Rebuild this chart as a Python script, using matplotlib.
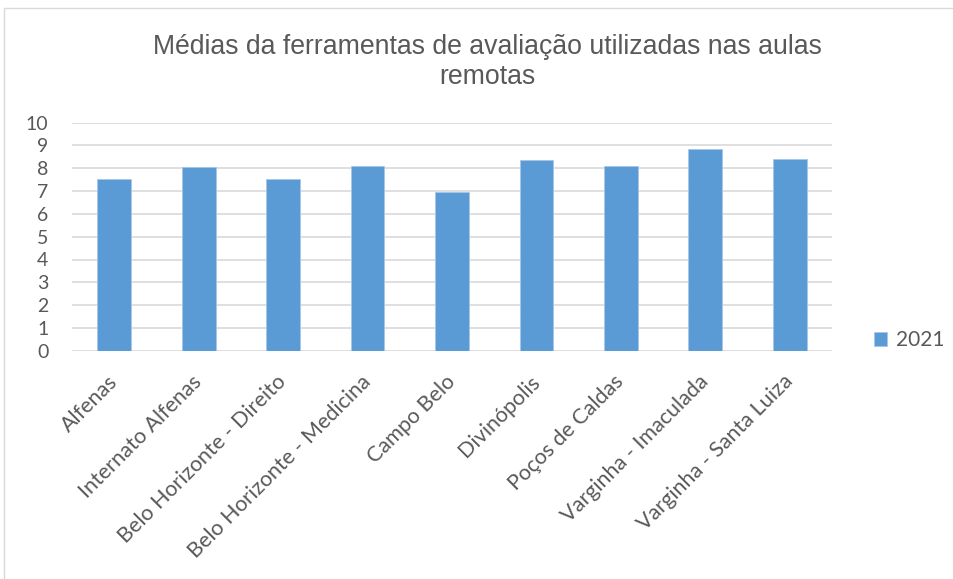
import matplotlib
matplotlib.use("Agg")
import matplotlib.pyplot as plt
from matplotlib.patches import Rectangle

categories = ["Alfenas", "Internato Alfenas", "Belo Horizonte - Direito",
              "Belo Horizonte - Medicina", "Campo Belo", "Divinópolis",
              "Poços de Caldas", "Varginha - Imaculada", "Varginha - Santa Luiza"]
values_2021 = [7.51, 8.04, 7.54, 8.11, 6.94, 8.35, 8.08, 8.83, 8.41]
series_name = "2021"
yticks = list(range(0, 11))
title = "Médias da ferramentas de avaliação utilizadas nas aulas\nremotas"

W, H = 954, 579
fig = plt.figure(figsize=(W / 100, H / 100), dpi=100)
fig.patch.set_facecolor("white")

# chart border
fig.patches.append(Rectangle((4 / W, -0.01), 1.0, (H - 8) / H + 0.01,
                             transform=fig.transFigure, fill=False,
                             edgecolor="#d9d9d9", linewidth=1.0))

left, right = 72 / W, 832 / W
bottom, top = (H - 350.7) / H, (H - 122.7) / H
ax = fig.add_axes([left, bottom, right - left, top - bottom])

x = list(range(len(categories)))
ax.bar(x, values_2021, width=0.4, color="#5b9bd5", edgecolor="#a7c7e8",
       linewidth=0.6, label=series_name, zorder=3)

ax.set_xlim(-0.5, len(categories) - 0.5)
ax.set_ylim(0, 10)
ax.set_yticks(yticks)
ax.yaxis.grid(True, color="#d9d9d9", linewidth=1.2, zorder=0)
ax.set_axisbelow(True)
for s in ax.spines.values():
    s.set_visible(False)

tick_font = "Lato"
ax.tick_params(axis="y", length=0, pad=17, labelsize=14, labelcolor="#595959")
ax.tick_params(axis="x", length=0, pad=20, labelsize=15.5, labelcolor="#595959")
for lab in ax.get_yticklabels():
    lab.set_fontfamily(tick_font)
ax.set_xticks(x)
ax.set_xticklabels(categories, rotation=45, ha="right", va="center",
                   rotation_mode="anchor", fontfamily=tick_font)

fig.text(487 / W, (H - 62) / H, title, ha="center", va="center",
         fontsize=19.2, color="#595959", fontfamily="Liberation Sans",
         linespacing=1.15)

leg = ax.legend(loc="center left", bbox_to_anchor=(855 / W, (H - 340) / H),
                bbox_transform=fig.transFigure, frameon=False,
                prop={"family": tick_font, "size": 15},
                handlelength=0.65, handleheight=0.65, handletextpad=0.4)
for t in leg.get_texts():
    t.set_color("#595959")

fig.savefig("out.png", dpi=100)
